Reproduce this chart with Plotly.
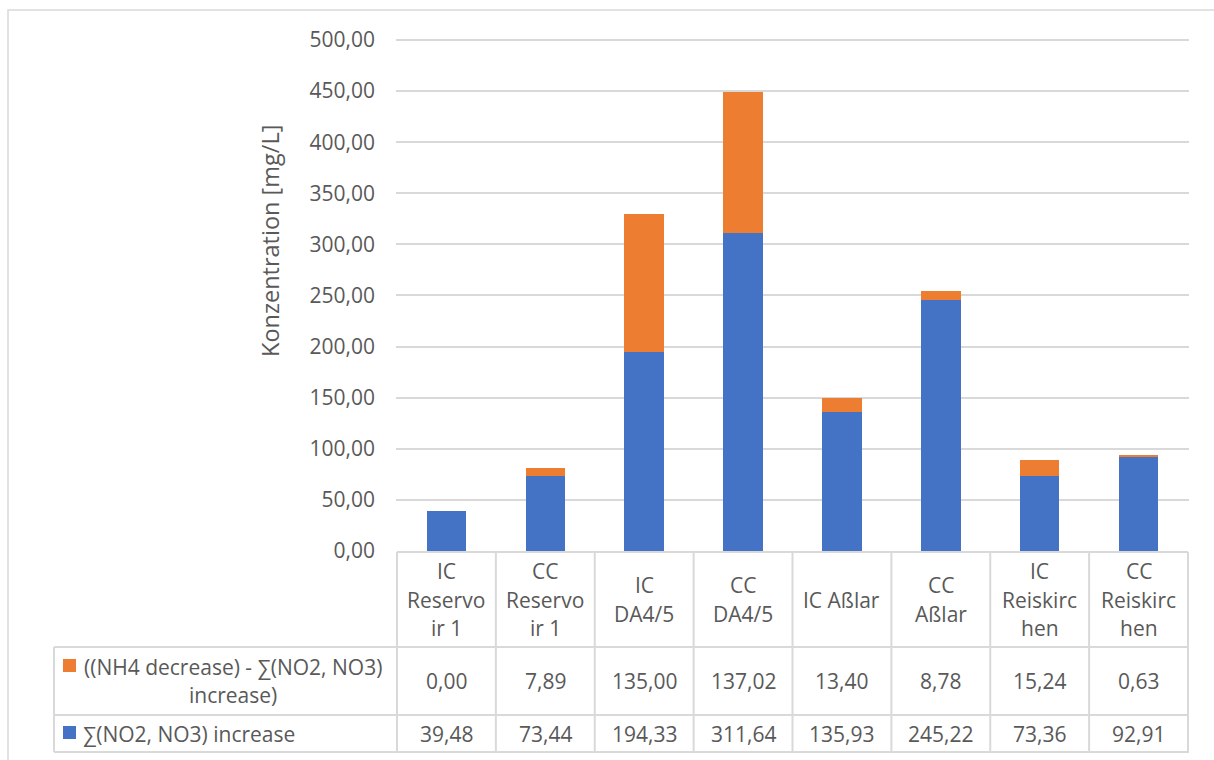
import plotly.graph_objects as go

# Sampling sites (header lines as they wrap in the data table)
categories = ["IC Reservoir 1", "CC Reservoir 1", "IC DA4/5", "CC DA4/5",
              "IC Aßlar", "CC Aßlar", "IC Reiskirchen", "CC Reiskirchen"]
header_lines = [["IC", "Reservo", "ir 1"], ["CC", "Reservo", "ir 1"],
                ["IC", "DA4/5"], ["CC", "DA4/5"], ["IC Aßlar"], ["CC", "Aßlar"],
                ["IC", "Reiskirc", "hen"], ["CC", "Reiskirc", "hen"]]

# Series values [mg/L]
no2_no3_increase = [39.48, 73.44, 194.33, 311.64, 135.93, 245.22, 73.36, 92.91]
nh4_minus_nox = [0.00, 7.89, 135.00, 137.02, 13.40, 8.78, 15.24, 0.63]

series_orange_name = ["((NH4 decrease) - ∑(NO2, NO3)", "increase)"]
series_blue_name = "∑(NO2, NO3) increase"

y_ticks = [0, 50, 100, 150, 200, 250, 300, 350, 400, 450, 500]
y_max = 500
y_title = "Konzentration [mg/L]"

BLUE = "#4472C4"
ORANGE = "#ED7D31"
TEXT = "#595959"
GRID = "#D9D9D9"
FONT = "Open Sans"
FS = 21

W, H = 1214, 760


def px(x):
    return x / W


def py(y):
    return 1 - y / H


def fmt(v):
    return f"{v:.2f}".replace(".", ",")


fig = go.Figure()
fig.add_trace(go.Bar(x=categories, y=no2_no3_increase, marker_color=BLUE,
                     marker_line_width=0, width=0.4, name=series_blue_name))
fig.add_trace(go.Bar(x=categories, y=nh4_minus_nox, marker_color=ORANGE,
                     marker_line_width=0, width=0.4, name=" ".join(series_orange_name)))

shapes = []
annotations = []

# table geometry (pixel rows)
header_top, row1_top, row2_top, table_bottom = 552, 647, 715, 752
table_left = 54
line = dict(color=GRID, width=2)

# vertical cell borders at category boundaries
for i in range(len(categories) + 1):
    shapes.append(dict(type="line", xref="x", yref="paper", x0=i - 0.5, x1=i - 0.5,
                       y0=py(header_top), y1=py(table_bottom), line=line))
# horizontal borders
shapes.append(dict(type="line", xref="x", yref="paper", x0=-0.5, x1=len(categories) - 0.5,
                   y0=py(header_top), y1=py(header_top), line=line))
for yy in (row1_top, row2_top, table_bottom):
    shapes.append(dict(type="line", xref="paper", yref="paper", x0=px(table_left),
                       x1=px(1189), y0=py(yy), y1=py(yy), line=line))
shapes.append(dict(type="line", xref="paper", yref="paper", x0=px(table_left), x1=px(table_left),
                   y0=py(row1_top), y1=py(table_bottom), line=line))

# outer chart frame
shapes.append(dict(type="rect", xref="paper", yref="paper", x0=px(8), x1=1.02,
                   y0=-0.02, y1=py(10), line=dict(color=GRID, width=1.5)))

# legend keys
for (y0, col) in ((659, ORANGE), (726, BLUE)):
    shapes.append(dict(type="rect", xref="paper", yref="paper", x0=px(63), x1=px(76),
                       y0=py(y0), y1=py(y0 + 13), fillcolor=col, line_width=0))

font = dict(family=FONT, size=FS, color=TEXT)
line_step = 28.5

# header cells
header_mid = (header_top + row1_top) / 2
for cat, lines in zip(categories, header_lines):
    n = len(lines)
    for k, t in enumerate(lines):
        yc = header_mid + (k - (n - 1) / 2) * line_step
        annotations.append(dict(x=cat, xref="x", y=py(yc), yref="paper", text=t,
                                showarrow=False, font=font, xanchor="center", yanchor="middle"))

# value rows
row1_mid = (row1_top + row2_top) / 2
row2_mid = (row2_top + table_bottom) / 2
for cat, a, b in zip(categories, nh4_minus_nox, no2_no3_increase):
    annotations.append(dict(x=cat, xref="x", y=py(row1_mid), yref="paper", text=fmt(a),
                            showarrow=False, font=font, yanchor="middle"))
    annotations.append(dict(x=cat, xref="x", y=py(row2_mid), yref="paper", text=fmt(b),
                            showarrow=False, font=font, yanchor="middle"))

# row titles
for k, t in enumerate(series_orange_name):
    yc = row1_mid + (k - 0.5) * line_step
    annotations.append(dict(x=px(232.5), xref="paper", y=py(yc), yref="paper", text=t,
                            showarrow=False, font=font, xanchor="center", yanchor="middle"))
annotations.append(dict(x=px(81), xref="paper", y=py(row2_mid), yref="paper", text=series_blue_name,
                        showarrow=False, font=font, xanchor="left", yanchor="middle"))

# y-axis title
annotations.append(dict(x=px(270), xref="paper", y=py(241), yref="paper", text=y_title,
                        textangle=-90, showarrow=False,
                        font=dict(family=FONT, size=23.5, color=TEXT),
                        xanchor="center", yanchor="middle"))

# plot area: 0 at y=551 px, 500 at y=40 px; range padded slightly so the top gridline shows
y_pad = 1
unit = (551 - 40) / y_max
fig.update_layout(
    width=W, height=H, autosize=False,
    margin=dict(l=0, r=0, t=0, b=0, autoexpand=False),
    barmode="stack",
    separators=",.",
    paper_bgcolor="white", plot_bgcolor="white",
    showlegend=False,
    font=font,
    shapes=shapes,
    annotations=annotations,
    xaxis=dict(domain=[px(396), px(1189)], showticklabels=False, showgrid=False,
               showline=False, zeroline=False, ticks="", fixedrange=True, automargin=False),
    yaxis=dict(domain=[py(551), py(40 - y_pad * unit)], range=[0, y_max + y_pad],
               tickvals=y_ticks, tickformat=".2f", showgrid=True, gridcolor=GRID,
               gridwidth=1.5, zeroline=False, showline=False, ticks="",
               ticklabelstandoff=20, tickfont=font, automargin=False),
)

fig.write_html("out.html")
